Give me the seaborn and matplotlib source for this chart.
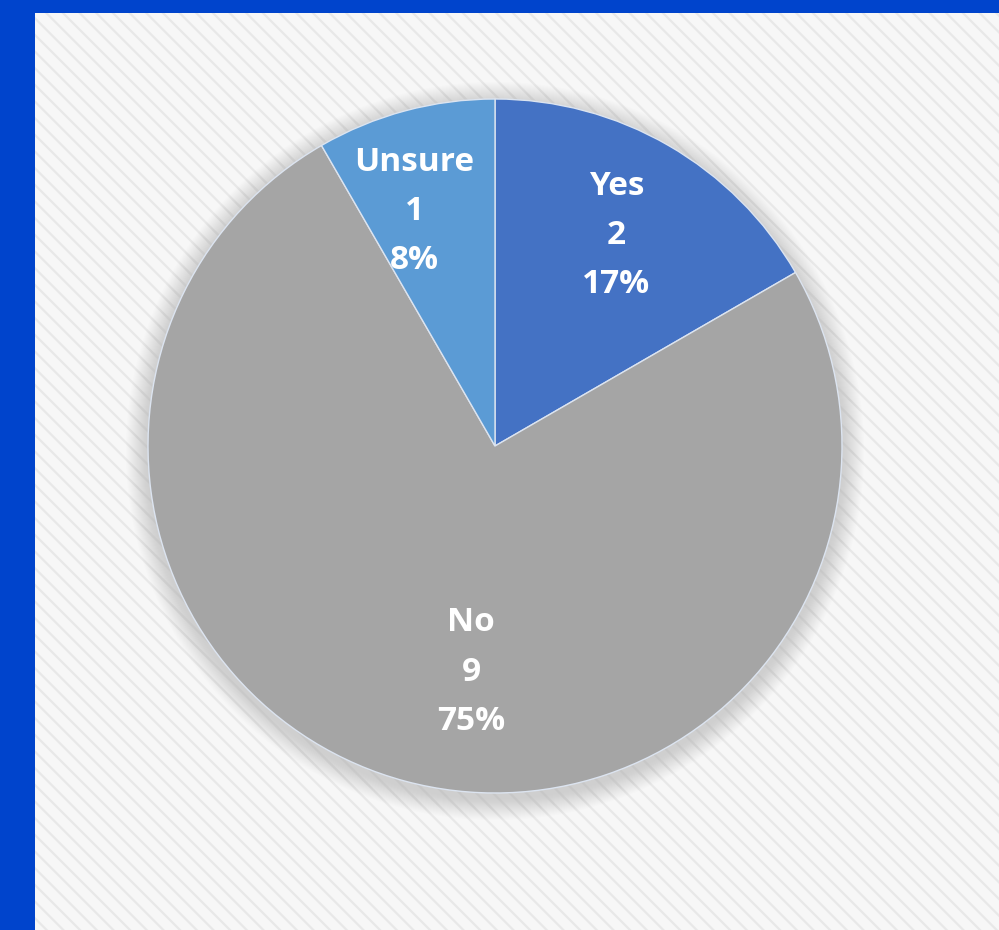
import numpy as np
import matplotlib
matplotlib.use("Agg")
import matplotlib.pyplot as plt
from matplotlib.patches import Rectangle, Circle
import seaborn as sns

# Survey responses
categories = ["Yes", "No", "Unsure"]
counts = [2, 9, 1]
colors = ["#4472C4", "#A5A5A5", "#5B9BD5"]

sns.set_theme(style="white")
plt.rcParams["font.family"] = ["Open Sans", "DejaVu Sans"]
plt.rcParams["hatch.linewidth"] = 1.6
plt.rcParams["hatch.color"] = "#E6E6E6"

W, H = 999, 930
fig = plt.figure(figsize=(W / 100, H / 100), dpi=100, facecolor="#0044CC")
ax = fig.add_axes([0, 0, 1, 1])
ax.set_xlim(0, W)
ax.set_ylim(0, H)
ax.set_aspect("equal")
ax.axis("off")

# Chart area with a light diagonal texture
ax.add_patch(Rectangle((35, 0), W - 35, H - 13, facecolor="#F7F7F7",
                       edgecolor="none", zorder=0))
ax.add_patch(Rectangle((35, 0), W - 35, H - 13, facecolor="none",
                       hatch="\\\\", edgecolor="#E8E8E8", linewidth=0, zorder=0.5))

cx, cy, R = 495, H - 446, 347

# Soft drop shadow under the pie
for i in range(22):
    ax.add_patch(Circle((cx, cy - 5), R + 22 - i, facecolor="#A0A0A0",
                        edgecolor="none", alpha=0.018, zorder=1))

wedges, _ = ax.pie(counts, colors=colors, startangle=90, counterclock=False,
                   center=(cx, cy), radius=R, frame=True,
                   wedgeprops=dict(edgecolor="#DCE4F0", linewidth=1.0))
for w in wedges:
    w.set_zorder(2)
ax.set_xlim(0, W)
ax.set_ylim(0, H)
ax.axis("off")

total = sum(counts)
label_radius = [0.70, 0.655, 0.715]
label_shift = [0, 9, 4]  # degrees nudged along the arc
for w, name, n, rr, sh in zip(wedges, categories, counts, label_radius, label_shift):
    mid = np.deg2rad((w.theta1 + w.theta2) / 2 + sh)
    x = cx + rr * R * np.cos(mid)
    y = cy + rr * R * np.sin(mid)
    pct = f"{round(100 * n / total)}%"
    ax.text(x, y, f"{name}\n{n}\n{pct}", ha="center", va="center",
            color="white", fontsize=24, fontweight="bold",
            linespacing=1.65, zorder=3)

fig.savefig("out.png", dpi=100, facecolor=fig.get_facecolor())
